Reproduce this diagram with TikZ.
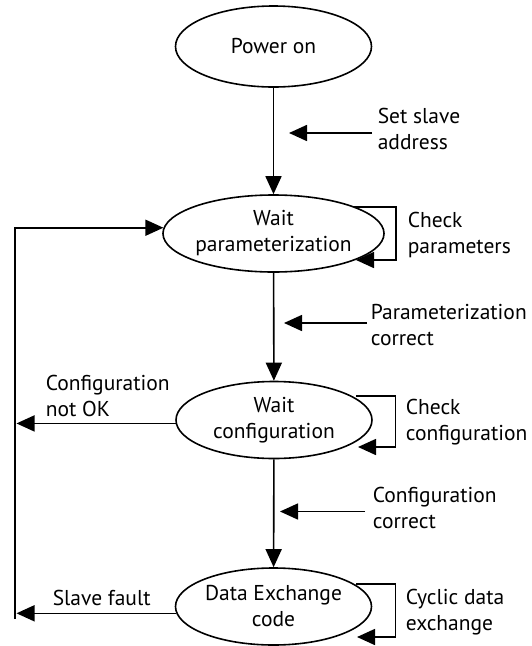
\documentclass[tikz,border=0pt]{standalone}
\usepackage{fontspec}
\setmainfont{PT Sans}
\usetikzlibrary{arrows.meta,shapes.geometric,calc}
\begin{document}
\begin{tikzpicture}[x=1pt,y=-1pt,
    line width=1.6pt,
    state/.style={ellipse,draw,inner sep=0pt,align=center,
      minimum width=196pt,minimum height=77pt,
      font=\fontsize{21.5}{26}\selectfont},
    lbl/.style={anchor=west,inner sep=0pt,align=left,
      font=\fontsize{21.5}{26}\selectfont},
    arr/.style={-{Triangle[length=18pt,width=16pt]}},
  ]
  \useasboundingbox (0,0) rectangle (531,646);

  % states
  \node[state,minimum height=81pt] (pw) at (273.5,46.5) {Power on};
  \node[state] (wp) at (273.5,233.5) {Wait\\parameterization};
  \node[state] (wc) at (274,420) {Wait\\configuration};
  \node[state] (de) at (273.5,606.5) {Data Exchange\\code};

  % labels
  \node[lbl] (sa)  at (377,129)   {Set slave\\address};
  \node[lbl] (cp)  at (407,235)   {Check\\parameters};
  \node[lbl] (pc)  at (370,325)   {Parameterization\\correct};
  \node[lbl] (cn)  at (45,396)    {Configuration\\not OK};
  \node[lbl] (cc)  at (405,422)   {Check\\configuration};
  \node[lbl] (ccr) at (372,508)   {Configuration\\correct};
  \node[lbl] (sf)  at (52,598)    {Slave fault};
  \node[lbl] (cy)  at (405,612)   {Cyclic data\\exchange};

  % main sequence
  \draw[arr] (pw) -- (wp);
  \draw[arr] (wp) -- (wc);
  \draw[arr] (wc) -- (de);

  % event arrows pointing at the transitions
  \coordinate (saA) at (372,133);   \coordinate (saB) at (289,133);
  \coordinate (pcA) at (367,323);   \coordinate (pcB) at (284,323);
  \coordinate (ccA) at (365,511.5); \coordinate (ccB) at (280,511.5);
  \draw[arr] (saA) -- (saB);
  \draw[arr] (pcA) -- (pcB);
  \draw[arr] (ccA) -- (ccB);

  % self loops
  \draw[arr] (354,207) -- (396,207) -- (396,260) -- (356,260);
  \draw[arr] (356,396) -- (395.5,396) -- (395.5,447) -- (358,447);
  \draw[arr] (356,584) -- (395.5,584) -- (395.5,637) -- (357,637);

  % return path on the left
  \coordinate (Lb) at (15,619);
  \draw[arr] (Lb) -- (wp.177 -| Lb) -- (wp.177);
  \draw[arr] (wc.182) -- ($(wc.182 -| Lb)+(1.5,0)$);
  \draw[arr] (de.184) -- ($(de.184 -| Lb)+(1.5,0)$);
\end{tikzpicture}
\end{document}
